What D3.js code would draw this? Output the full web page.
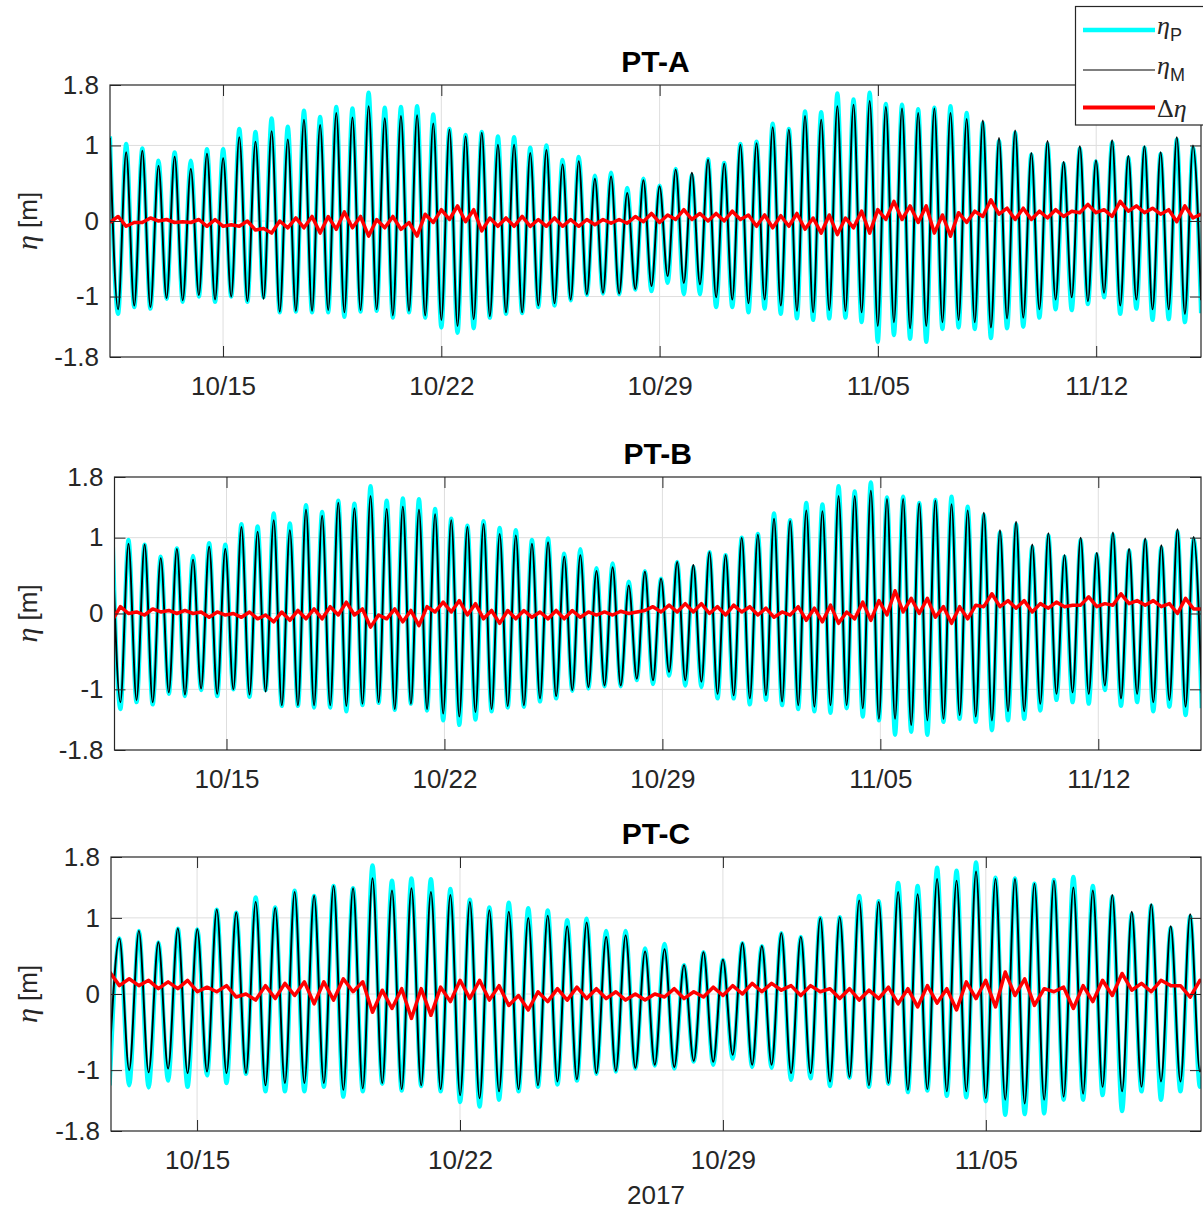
<!DOCTYPE html>
<html><head><meta charset="utf-8">
<script src="https://cdn.jsdelivr.net/npm/d3@7"></script>
<style>body{margin:0;background:#fff}svg{display:block}</style>
</head><body>
<svg id="chart" width="1203" height="1212"></svg>
<script>
// ---------------- DATA ----------------
const tidePeriodHours = 12.44;           // spacing between successive high waters
const tickDates = ["2017-10-15","2017-10-22","2017-10-29","2017-11-05","2017-11-12"];
const yTicks = [-1.8, -1, 0, 1, 1.8];
const panelTitles = ["PT-A", "PT-B", "PT-C"];
const legendLabels = ["ηP", "ηM", "Δη"];
const xAxisLabel = "2017";

// PT-A : high / low water levels (m), first extreme = high
const ptA_highM = [1.10,0.91,0.93,0.73,0.85,0.69,0.89,0.83,1.11,1.05,1.19,1.08,1.34,1.27,1.43,1.37,1.52,1.36,1.39,1.40,1.29,1.21,1.12,1.17,1.01,1.01,0.90,0.94,0.75,0.79,0.56,0.59,0.37,0.54,0.46,0.68,0.64,0.81,0.76,1.01,1.03,1.24,1.21,1.39,1.34,1.52,1.54,1.59,1.51,1.49,1.43,1.49,1.43,1.35,1.33,1.10,1.20,0.90,1.06,0.78,0.99,0.80,1.07,0.86,0.99,0.91,1.11,1.00];
const ptA_lowM  = [-1.17,-1.12,-1.14,-1.02,-1.05,-0.98,-1.04,-1.00,-1.06,-1.03,-1.20,-1.19,-1.19,-1.18,-1.21,-1.18,-1.17,-1.25,-1.19,-1.25,-1.31,-1.39,-1.30,-1.26,-1.21,-1.21,-1.12,-1.09,-1.04,-0.97,-0.95,-0.96,-0.90,-0.86,-0.73,-0.82,-0.84,-1.01,-1.04,-1.09,-1.04,-1.12,-1.19,-1.21,-1.18,-1.19,-1.21,-1.39,-1.34,-1.42,-1.39,-1.34,-1.31,-1.34,-1.41,-1.29,-1.28,-1.17,-1.04,-1.01,-1.06,-0.95,-1.12,-1.04,-1.17,-1.17,-1.23,-1.05];
const ptA_highP = [1.12,1.02,0.96,0.80,0.91,0.80,0.95,0.95,1.22,1.18,1.36,1.25,1.46,1.38,1.51,1.49,1.70,1.50,1.51,1.52,1.41,1.22,1.14,1.18,1.12,1.11,0.97,1.00,0.81,0.85,0.60,0.64,0.44,0.56,0.47,0.69,0.61,0.82,0.77,1.02,1.05,1.29,1.22,1.45,1.44,1.69,1.61,1.70,1.55,1.54,1.48,1.50,1.52,1.43,1.30,1.06,1.17,0.88,1.02,0.76,0.96,0.79,1.04,0.84,0.97,0.89,1.08,0.97];
const ptA_lowP  = [-1.23,-1.14,-1.16,-1.03,-1.07,-1.00,-1.07,-1.00,-1.07,-1.01,-1.21,-1.20,-1.21,-1.21,-1.27,-1.20,-1.19,-1.28,-1.21,-1.28,-1.41,-1.48,-1.42,-1.28,-1.23,-1.22,-1.14,-1.12,-1.05,-0.98,-0.96,-0.97,-0.91,-0.93,-0.82,-0.97,-0.97,-1.14,-1.14,-1.21,-1.16,-1.23,-1.29,-1.31,-1.29,-1.28,-1.34,-1.60,-1.51,-1.56,-1.60,-1.43,-1.41,-1.43,-1.55,-1.42,-1.40,-1.28,-1.17,-1.18,-1.10,-1.01,-1.23,-1.16,-1.31,-1.30,-1.34,-1.22];
const ptA_dHigh = [-0.02,-0.07,-0.02,0.00,-0.02,-0.02,-0.07,-0.07,-0.07,-0.12,-0.16,-0.09,-0.09,-0.16,-0.11,-0.09,-0.20,-0.09,-0.11,-0.20,-0.02,0.02,-0.01,-0.13,-0.07,-0.07,-0.07,-0.07,-0.07,-0.07,-0.05,-0.03,-0.03,-0.01,-0.02,0.02,0.02,0.00,0.00,0.02,-0.07,-0.09,-0.07,-0.11,-0.16,-0.18,-0.09,-0.16,0.02,0.02,-0.02,-0.16,-0.20,-0.02,0.06,0.09,0.02,0.02,0.04,0.06,0.11,0.11,0.06,0.13,0.11,0.09,-0.01,0.04];
const ptA_dLow  = [0.06,-0.02,0.04,0.02,-0.01,0.02,0.02,-0.05,0.00,-0.10,0.00,0.04,0.06,0.06,0.12,0.06,0.02,0.06,-0.02,0.09,0.15,0.20,0.15,0.04,0.04,0.06,0.02,0.04,0.02,0.02,0.02,0.02,0.06,0.10,0.08,0.15,0.10,0.10,0.13,0.08,0.08,0.07,0.10,0.04,0.08,0.04,0.13,0.15,0.26,0.20,0.20,0.08,0.11,0.13,0.28,0.17,0.17,0.13,0.15,0.13,0.22,0.15,0.26,0.20,0.17,0.15,0.20,0.09];

// PT-B : first extreme = high
const ptB_highM = [1.00,0.92,0.91,0.73,0.85,0.71,0.88,0.85,1.14,1.08,1.23,1.10,1.37,1.29,1.46,1.39,1.55,1.38,1.41,1.37,1.31,1.23,1.14,1.18,1.05,1.03,0.92,0.94,0.75,0.77,0.56,0.61,0.37,0.55,0.46,0.68,0.64,0.81,0.77,1.00,1.04,1.25,1.22,1.36,1.35,1.55,1.55,1.62,1.51,1.51,1.45,1.49,1.44,1.36,1.33,1.10,1.21,0.91,1.06,0.77,1.00,0.80,1.07,0.85,0.99,0.90,1.11,1.01];
const ptB_lowM  = [-1.17,-1.14,-1.17,-1.04,-1.07,-0.99,-1.06,-1.00,-1.07,-1.03,-1.21,-1.21,-1.21,-1.21,-1.22,-1.19,-1.17,-1.26,-1.19,-1.26,-1.32,-1.36,-1.30,-1.26,-1.22,-1.21,-1.12,-1.09,-1.01,-0.97,-0.95,-0.95,-0.86,-0.88,-0.77,-0.88,-0.90,-1.06,-1.08,-1.12,-1.08,-1.16,-1.21,-1.23,-1.21,-1.21,-1.25,-1.39,-1.39,-1.47,-1.41,-1.39,-1.34,-1.36,-1.41,-1.29,-1.29,-1.19,-1.06,-1.04,-1.06,-0.95,-1.12,-1.06,-1.17,-1.14,-1.23,-1.05];
const ptB_highP = [1.15,0.97,0.91,0.75,0.86,0.76,0.93,0.91,1.18,1.15,1.32,1.19,1.43,1.34,1.49,1.45,1.68,1.49,1.52,1.51,1.38,1.25,1.16,1.22,1.13,1.10,0.97,0.99,0.79,0.85,0.60,0.66,0.42,0.56,0.46,0.68,0.62,0.81,0.77,1.00,1.05,1.32,1.23,1.46,1.44,1.68,1.61,1.73,1.53,1.54,1.46,1.50,1.54,1.41,1.30,1.07,1.18,0.88,1.03,0.75,0.97,0.78,1.04,0.83,0.96,0.87,1.08,0.98];
const ptB_lowP  = [-1.26,-1.17,-1.20,-1.06,-1.09,-1.01,-1.09,-1.00,-1.10,-1.01,-1.22,-1.22,-1.24,-1.24,-1.29,-1.21,-1.18,-1.27,-1.19,-1.28,-1.41,-1.47,-1.40,-1.29,-1.24,-1.23,-1.16,-1.12,-1.02,-0.99,-0.96,-0.96,-0.88,-0.93,-0.82,-0.95,-0.97,-1.12,-1.12,-1.20,-1.14,-1.21,-1.26,-1.29,-1.31,-1.25,-1.36,-1.41,-1.60,-1.56,-1.60,-1.43,-1.39,-1.43,-1.54,-1.41,-1.39,-1.28,-1.14,-1.17,-1.19,-1.01,-1.22,-1.17,-1.29,-1.23,-1.34,-1.25];
const ptB_dHigh = [-0.09,0.00,-0.02,0.02,0.00,0.00,-0.05,-0.02,-0.05,-0.07,-0.11,-0.09,-0.07,-0.07,-0.02,-0.02,-0.18,-0.07,-0.11,-0.16,0.02,0.02,-0.02,-0.07,-0.13,-0.07,-0.05,-0.07,-0.07,-0.05,-0.02,-0.02,0.00,0.04,0.02,0.02,0.02,0.00,-0.02,0.02,-0.02,-0.05,-0.02,-0.09,-0.11,-0.13,-0.07,-0.09,-0.02,0.02,0.00,-0.05,-0.13,-0.07,0.09,0.09,0.07,0.02,0.07,0.09,0.11,0.09,0.11,0.13,0.11,0.09,0.00,0.06];
const ptB_dLow  = [0.09,0.02,0.06,0.04,0.04,0.02,0.02,0.00,0.02,-0.02,0.02,0.04,0.06,0.09,0.15,0.06,-0.02,0.06,0.04,0.09,0.15,0.17,0.13,0.04,0.04,0.04,0.02,0.04,0.04,0.02,0.02,0.03,0.02,0.09,0.11,0.13,0.13,0.09,0.11,0.09,0.07,0.02,0.09,0.07,0.11,0.02,0.15,0.17,0.30,0.20,0.20,0.09,0.09,0.11,0.26,0.17,0.17,0.13,0.15,0.11,0.22,0.13,0.26,0.17,0.17,0.13,0.20,0.06];

// PT-C : first extreme = low
const ptC_lowM  = [-0.82,-1.00,-1.03,-0.98,-1.04,-1.02,-1.04,-1.04,-1.20,-1.17,-1.17,-1.17,-1.26,-1.24,-1.17,-1.25,-1.20,-1.25,-1.33,-1.37,-1.28,-1.25,-1.20,-1.15,-1.12,-1.04,-1.01,-0.97,-0.93,-0.96,-0.88,-0.89,-0.80,-0.93,-0.93,-1.04,-1.04,-1.15,-1.09,-1.20,-1.17,-1.26,-1.25,-1.28,-1.28,-1.37,-1.39,-1.44,-1.39,-1.35,-1.31,-1.22,-1.28,-1.22,-1.15,-1.15,-1.02];
const ptC_highM = [0.73,0.83,0.68,0.86,0.85,1.11,1.07,1.21,1.13,1.34,1.29,1.42,1.39,1.52,1.36,1.39,1.34,1.30,1.21,1.10,1.08,1.00,1.03,0.89,0.94,0.75,0.77,0.56,0.59,0.38,0.55,0.45,0.67,0.63,0.80,0.75,1.00,1.01,1.23,1.21,1.34,1.31,1.51,1.49,1.61,1.51,1.51,1.45,1.49,1.40,1.36,1.30,1.08,1.18,0.89,1.05,1.00];
const ptC_lowP  = [-1.20,-1.20,-1.23,-1.14,-1.22,-1.07,-1.17,-1.05,-1.28,-1.28,-1.28,-1.22,-1.35,-1.28,-1.18,-1.27,-1.21,-1.28,-1.42,-1.48,-1.39,-1.28,-1.22,-1.19,-1.14,-1.05,-1.02,-0.98,-0.94,-0.98,-0.89,-0.93,-0.85,-0.96,-0.97,-1.13,-1.11,-1.21,-1.10,-1.22,-1.18,-1.29,-1.27,-1.34,-1.36,-1.41,-1.59,-1.58,-1.57,-1.39,-1.39,-1.33,-1.54,-1.28,-1.39,-1.28,-1.22];
const ptC_highP = [0.73,0.83,0.68,0.86,0.85,1.11,1.07,1.27,1.14,1.36,1.29,1.42,1.39,1.69,1.49,1.52,1.51,1.38,1.24,1.14,1.20,1.13,1.10,0.97,0.99,0.83,0.83,0.60,0.66,0.38,0.55,0.45,0.67,0.63,0.80,0.75,1.00,1.01,1.29,1.22,1.46,1.42,1.66,1.62,1.73,1.53,1.52,1.45,1.50,1.54,1.42,1.28,1.05,1.16,0.87,1.02,0.98];
const ptC_dLow  = [0.29,0.20,0.18,0.16,0.18,0.09,0.11,0.00,0.11,0.14,0.16,0.16,0.20,0.16,0.05,0.07,0.07,0.09,0.18,0.18,0.11,-0.02,0.03,0.07,0.09,0.07,0.03,0.00,0.00,0.07,0.03,0.09,0.11,0.14,0.14,0.11,0.11,0.07,0.07,0.05,0.09,0.07,0.11,0.07,0.16,0.18,0.29,0.20,0.07,0.09,0.11,0.18,0.27,0.14,0.18,0.11,0.18];
const ptC_dHigh = [0.11,0.11,0.07,0.07,0.03,0.03,-0.04,-0.08,-0.06,-0.02,-0.13,-0.08,0.03,-0.24,-0.19,-0.32,-0.28,-0.10,-0.06,-0.08,-0.15,-0.21,-0.10,-0.08,-0.06,-0.06,-0.08,-0.08,-0.04,-0.06,-0.04,-0.02,0.00,0.03,0.05,-0.02,0.03,-0.06,-0.08,-0.06,-0.13,-0.17,-0.12,-0.21,-0.06,-0.17,-0.02,-0.15,0.03,-0.19,-0.10,-0.02,0.05,0.03,0.11,-0.04,0.13];

// time spans of each panel (axis limits) and time of first extreme
const panelStart = ["2017-10-11T09:00", "2017-10-11T09:40", "2017-10-12T17:00"];
const panelEnd   = ["2017-11-15T08:40", "2017-11-15T07:10", "2017-11-10T17:30"];
const firstExtreme = ["2017-10-11T09:00", "2017-10-11T08:00", "2017-10-12T16:10"];

// ---------------- LAYOUT / STYLE ----------------
const layout = [
  {left:110,   right:1201, top:85,  bottom:357},
  {left:114.5, right:1201, top:477, bottom:750},
  {left:111,   right:1201, top:857, bottom:1131}
];
const COL_P = "#00ffff", COL_M = "#000000", COL_D = "#ff0000", AX = "#262626", GRID = "#dedede";
const FONT = "'Liberation Sans', Arial, Helvetica, sans-serif";
const SERIF = "'Liberation Serif', 'Times New Roman', serif";

const parse = d3.timeParse("%Y-%m-%dT%H:%M");
const parseDay = d3.timeParse("%Y-%m-%d");
const fmt = d3.timeFormat("%m/%d");
const halfMs = tidePeriodHours * 3600 * 1000 / 2;

function interleave(a, b) { const out = []; for (let i = 0; i < a.length; i++) { out.push(a[i]); if (i < b.length) out.push(b[i]); } return out; }

const series = [
  {M:[ptA_highM, ptA_lowM], P:[ptA_highP, ptA_lowP], D:[ptA_dHigh, ptA_dLow]},
  {M:[ptB_highM, ptB_lowM], P:[ptB_highP, ptB_lowP], D:[ptB_dHigh, ptB_dLow]},
  {M:[ptC_lowM, ptC_highM], P:[ptC_lowP, ptC_highP], D:[ptC_dLow, ptC_dHigh]}
];

const svg = d3.select("#chart");
svg.append("rect").attr("width",1203).attr("height",1212).attr("fill","#fff");

series.forEach((s, pi) => {
  const L = layout[pi];
  const x = d3.scaleTime().domain([parse(panelStart[pi]), parse(panelEnd[pi])]).range([L.left, L.right]);
  const y = d3.scaleLinear().domain([-1.8, 1.8]).range([L.bottom, L.top]);
  const t0 = parse(firstExtreme[pi]).getTime();
  const toPts = arr => arr.map((v, i) => ({t: new Date(t0 + i * halfMs), v}));
  const mPts = toPts(interleave(s.M[0], s.M[1]));
  const pPts = toPts(interleave(s.P[0], s.P[1]));
  const dPts = toPts(interleave(s.D[0], s.D[1]));
  const dom = x.domain();
  const ticks = tickDates.map(parseDay).filter(d => d >= dom[0] && d <= dom[1]);

  const g = svg.append("g");
  // grid
  g.append("g").selectAll("line").data(ticks).join("line")
    .attr("x1", d => x(d)).attr("x2", d => x(d)).attr("y1", L.top).attr("y2", L.bottom)
    .attr("stroke", GRID).attr("stroke-width", 1);
  g.append("g").selectAll("line").data(yTicks.filter(v => Math.abs(v) < 1.8)).join("line")
    .attr("x1", L.left).attr("x2", L.right).attr("y1", d => y(d)).attr("y2", d => y(d))
    .attr("stroke", GRID).attr("stroke-width", 1);

  // clip
  const cid = "clip" + pi;
  svg.append("clipPath").attr("id", cid).append("rect")
    .attr("x", L.left).attr("y", L.top).attr("width", L.right - L.left).attr("height", L.bottom - L.top);
  const plot = g.append("g").attr("clip-path", `url(#${cid})`);
  const smooth = d3.line().x(d => x(d.t)).y(d => y(d.v)).curve(d3.curveMonotoneX);
  const straight = d3.line().x(d => x(d.t)).y(d => y(d.v));
  plot.append("path").attr("d", smooth(pPts)).attr("fill","none").attr("stroke", COL_P).attr("stroke-width", 4.2).attr("stroke-linejoin","round");
  plot.append("path").attr("d", smooth(mPts)).attr("fill","none").attr("stroke", COL_M).attr("stroke-width", 1.9).attr("stroke-linejoin","round");
  plot.append("path").attr("d", straight(dPts)).attr("fill","none").attr("stroke", COL_D).attr("stroke-width", 3.5).attr("stroke-linejoin","round");

  // axes (inward ticks)
  const styleAxis = sel => {
    sel.select(".domain").remove();
    sel.selectAll(".tick line").attr("stroke", AX).attr("stroke-width", 1);
    sel.selectAll(".tick text").attr("fill", AX);
    sel.attr("font-family", FONT).attr("font-size", 26);
  };
  g.append("g").attr("transform", `translate(0,${L.bottom})`)
    .call(d3.axisBottom(x).tickValues(ticks).tickFormat(fmt).tickSizeInner(-11).tickSizeOuter(0).tickPadding(20)).call(styleAxis);
  g.append("g").attr("transform", `translate(0,${L.top})`)
    .call(d3.axisTop(x).tickValues(ticks).tickFormat("").tickSizeInner(-11).tickSizeOuter(0)).call(styleAxis);
  g.append("g").attr("transform", `translate(${L.left},0)`)
    .call(d3.axisLeft(y).tickValues(yTicks).tickFormat(d => String(d)).tickSizeInner(-11).tickSizeOuter(0).tickPadding(11)).call(styleAxis);
  g.append("g").attr("transform", `translate(${L.right},0)`)
    .call(d3.axisRight(y).tickValues(yTicks).tickFormat("").tickSizeInner(-11).tickSizeOuter(0)).call(styleAxis);

  // box
  g.append("rect").attr("x", L.left).attr("y", L.top).attr("width", L.right - L.left).attr("height", L.bottom - L.top)
    .attr("fill","none").attr("stroke", AX).attr("stroke-width", 1.2);

  // title
  g.append("text").attr("x", (L.left + L.right) / 2).attr("y", L.top - 13).attr("text-anchor","middle")
    .attr("font-family", FONT).attr("font-weight","bold").attr("font-size", 30).attr("fill","#000").text(panelTitles[pi]);

  // y label
  const yl = g.append("text").attr("transform", `translate(37,${(L.top + L.bottom) / 2}) rotate(-90)`)
    .attr("text-anchor","middle").attr("fill", AX).attr("font-size", 26).attr("font-family", FONT);
  yl.append("tspan").attr("font-family", SERIF).attr("font-style","italic").attr("font-size", 30).text("η");
  yl.append("tspan").text(" [m]");

  if (pi === 2) {
    g.append("text").attr("x", (L.left + L.right) / 2).attr("y", L.bottom + 73).attr("text-anchor","middle")
      .attr("font-family", FONT).attr("font-size", 26).attr("fill", AX).text(xAxisLabel);
  }
});

// legend
const lg = svg.append("g");
lg.append("rect").attr("x", 1075.5).attr("y", 6.5).attr("width", 130).attr("height", 118.5)
  .attr("fill","#fff").attr("stroke", AX).attr("stroke-width", 1.2);
const legendItems = [
  {c: COL_P, w: 4.5, y: 30, sym: "η", sub: legendLabels[0].slice(1)},
  {c: COL_M, w: 1.2, y: 70, sym: "η", sub: legendLabels[1].slice(1)},
  {c: COL_D, w: 4, y: 107.5, delta: true}
];
legendItems.forEach(it => {
  lg.append("line").attr("x1", 1083).attr("x2", 1155).attr("y1", it.y).attr("y2", it.y)
    .attr("stroke", it.c).attr("stroke-width", it.w);
  const t = lg.append("text").attr("x", 1157).attr("y", it.y + 4).attr("fill", AX).attr("font-size", 26).attr("font-family", SERIF);
  if (it.delta) {
    t.attr("y", it.y + 9);
    t.append("tspan").text("Δ");
    t.append("tspan").attr("font-style","italic").text("η");
  } else {
    t.append("tspan").attr("font-style","italic").text(it.sym);
    t.append("tspan").attr("font-family", FONT).attr("font-size", 18).attr("dy", 7).text(it.sub);
  }
});
</script>
</body></html>
